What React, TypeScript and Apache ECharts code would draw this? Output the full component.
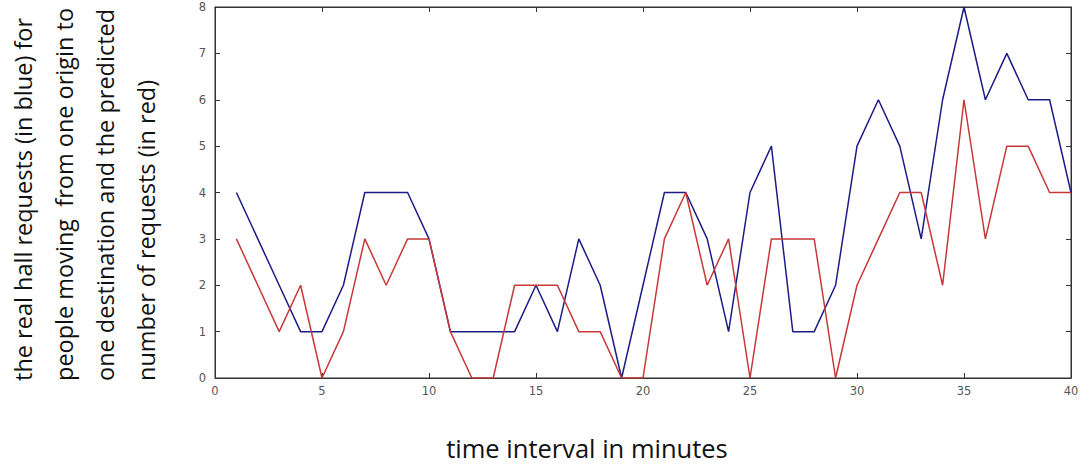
import React, { useEffect, useRef } from "react";
import * as echarts from "echarts";

const minutes = [1,2,3,4,5,6,7,8,9,10,11,12,13,14,15,16,17,18,19,20,21,22,23,24,25,26,27,28,29,30,31,32,33,34,35,36,37,38,39,40];
const realRequests = [4,3,2,1,1,2,4,4,4,3,1,1,1,1,2,1,3,2,0,2,4,4,3,1,4,5,1,1,2,5,6,5,3,6,8,6,7,6,6,4];
const predictedRequests = [3,2,1,2,0,1,3,2,3,3,1,0,0,2,2,2,1,1,0,0,3,4,2,3,0,3,3,3,0,2,3,4,4,2,6,3,5,5,4,4];
const xTicks = [0,5,10,15,20,25,30,35,40];
const yTicks = [0,1,2,3,4,5,6,7,8];
const yTitleLines = [
  "the real hall requests (in blue) for",
  "people moving  from one origin to",
  "one destination and the predicted",
  "number of requests (in red)",
];
const xTitle = "time interval in minutes";

export default function App() {
  const ref = useRef<HTMLDivElement>(null);
  useEffect(() => {
    if (!ref.current) return;
    const chart = echarts.init(ref.current, null, { renderer: "svg" });
    const tickLabel = { color: "#555", fontFamily: "DejaVu Sans", fontSize: 11.5 };
    const axisLine = { show: true, onZero: false, lineStyle: { color: "#333", width: 1 } };
    const tickIn = { show: true, inside: true, length: 5, lineStyle: { color: "#333" } };
    chart.setOption({
      animation: false,
      backgroundColor: "#fff",
      grid: { left: 215, right: 18, top: 7, bottom: 91, show: true, borderColor: "#333", borderWidth: 1 },
      xAxis: [
        {
          type: "value", min: xTicks[0], max: xTicks[xTicks.length - 1], interval: 5,
          axisLine, axisTick: tickIn, splitLine: { show: false },
          axisLabel: { ...tickLabel, margin: 7 },
        },
        {
          type: "value", position: "top", min: xTicks[0], max: xTicks[xTicks.length - 1], interval: 5,
          axisLine, axisTick: tickIn, splitLine: { show: false }, axisLabel: { show: false },
        },
      ],
      yAxis: [
        {
          type: "value", min: yTicks[0], max: yTicks[yTicks.length - 1], interval: 1,
          axisLine, axisTick: tickIn, splitLine: { show: false },
          axisLabel: { ...tickLabel, margin: 9 },
        },
        {
          type: "value", position: "right", min: yTicks[0], max: yTicks[yTicks.length - 1], interval: 1,
          axisLine, axisTick: tickIn, splitLine: { show: false }, axisLabel: { show: false },
        },
      ],
      series: [
        {
          type: "line", name: "real", data: minutes.map((m, i) => [m, realRequests[i]]),
          showSymbol: false, lineStyle: { color: "#1c1c86", width: 1.5 }, itemStyle: { color: "#1c1c86" },
        },
        {
          type: "line", name: "predicted", data: minutes.map((m, i) => [m, predictedRequests[i]]),
          showSymbol: false, lineStyle: { color: "#c83838", width: 1.5 }, itemStyle: { color: "#c83838" },
        },
      ],
      graphic: [
        {
          type: "text", x: 2, y: 381, rotation: Math.PI / 2,
          style: {
            text: yTitleLines.join("\n"), fontFamily: "Open Sans", fontSize: 23.5,
            lineHeight: 41, fill: "#111", align: "left", verticalAlign: "top",
          },
        },
        {
          type: "text", x: 587, y: 448,
          style: {
            text: xTitle, fontFamily: "Open Sans", fontSize: 25.5, fill: "#111",
            align: "center", verticalAlign: "middle",
          },
        },
      ],
    });
    return () => chart.dispose();
  }, []);
  return <div ref={ref} style={{ position: "absolute", left: 0, top: 0, width: 1089, height: 469 }} />;
}
